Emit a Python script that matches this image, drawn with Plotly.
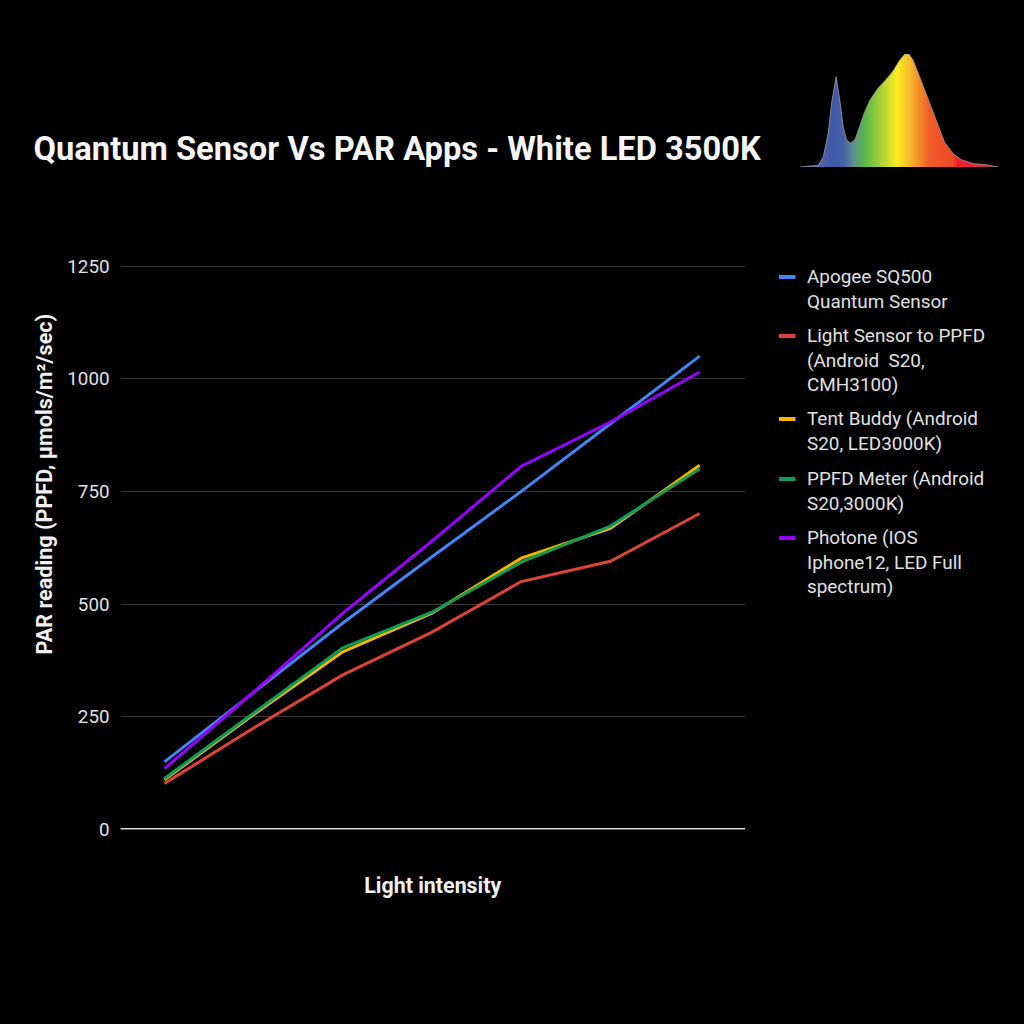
import plotly.graph_objects as go

light_steps = [1, 2, 3, 4, 5, 6, 7]
series_names = [
    "Apogee SQ500<br>Quantum Sensor",
    "Light Sensor to PPFD<br>(Android  S20,<br>CMH3100)",
    "Tent Buddy (Android<br>S20, LED3000K)",
    "PPFD Meter (Android<br>S20,3000K)",
    "Photone (IOS<br>Iphone12, LED Full<br>spectrum)",
]
apogee = [150, 305, 458, 605, 750, 900, 1050]
light_sensor = [102, 225, 343, 438, 550, 595, 701]
tent_buddy = [110, 255, 394, 480, 602, 668, 808]
ppfd_meter = [113, 258, 403, 482, 593, 673, 800]
photone = [135, 305, 480, 640, 806, 904, 1015]
series_colors = ["#4285f4", "#db4437", "#f4b400", "#0f9d58", "#9900ff"]
y_ticks = [0, 250, 500, 750, 1000, 1250]

spectrum_nm = [380, 417, 427, 437, 444, 453, 461, 467, 474, 482, 491, 501, 511, 521, 538, 555,
               568, 582, 592, 600, 608, 619, 632, 645, 659, 672, 689, 706, 729, 756, 780]
spectrum_rel = [0, 1.5, 9, 30, 57, 80, 57, 36, 24, 21, 24, 36, 49, 59, 70, 78,
                85, 95, 100, 100, 95, 83, 68, 52, 36, 22, 12, 6.5, 3, 2, 0]

S = 1024.0
legend_first_line_px = [277, 336, 419, 479, 538]

fig = go.Figure()
for name, vals, col in zip(series_names, [apogee, light_sensor, tent_buddy, ppfd_meter, photone], series_colors):
    fig.add_trace(go.Scatter(x=light_steps, y=vals, name=name.replace("<br>", " "), mode="lines",
                             showlegend=False, line=dict(color=col, width=3)))

fig.add_trace(go.Scatter(
    x=spectrum_nm, y=spectrum_rel, xaxis="x2", yaxis="y2", mode="lines", showlegend=False,
    hoverinfo="skip", line=dict(color="#9a9a9a", width=0.8), fill="tozeroy",
    fillgradient=dict(type="horizontal", colorscale=[
        [0, "#6f6aa0"], [0.1, "#5a5fa8"], [0.16, "#3f5aa8"], [0.22, "#4560a5"], [0.27, "#5f8f8f"],
        [0.33, "#58b947"], [0.42, "#b5d334"], [0.49, "#f9ed20"], [0.56, "#f7b52b"], [0.655, "#f15a29"],
        [0.77, "#ef4a26"], [0.8, "#ed1c24"], [0.9, "#e0303a"], [1, "#a03040"]]),
))

fig.update_layout(
    width=1024, height=1024, margin=dict(l=0, r=0, t=0, b=0, autoexpand=False),
    paper_bgcolor="#000000", plot_bgcolor="#000000", showlegend=False,
    font=dict(family="Roboto", color="#e8e8e8"),
    title=dict(text="<b>Quantum Sensor Vs PAR Apps - White LED 3500K</b>",
               x=33.5 / S, xanchor="left", y=1 - 148.5 / S, yanchor="middle",
               font=dict(family="Roboto", size=32.7, color="#f5f5f5")),
    xaxis=dict(domain=[120.5 / S, 745 / S], range=[0.508, 7.508], showticklabels=False, showgrid=False,
               zeroline=False, ticks="", title=dict(text="<b>Light intensity</b>", standoff=48.5,
               font=dict(size=21.4, color="#f0f0f0"))),
    yaxis=dict(domain=[1 - 829.5 / S, 1 - 263.75 / S], range=[0, 1255], tickvals=y_ticks,
               gridcolor="#3a3a3a", gridwidth=1, zeroline=False, ticks="", showline=False,
               tickfont=dict(size=18.8, color="#e0e0e0"), ticklabelstandoff=10),
    xaxis2=dict(domain=[800 / S, 998 / S], range=[380, 780], visible=False, anchor="y2"),
    yaxis2=dict(domain=[1 - 167 / S, 1 - 54 / S], range=[0, 100], visible=False, anchor="x2"),
)
fig.add_shape(type="line", xref="paper", yref="y", x0=120.5 / S, x1=745 / S, y0=0, y1=0,
              layer="above", line=dict(color="#d8d8d8", width=3))
fig.add_annotation(text="<b>PAR reading (PPFD, µmols/m²/sec)</b>", xref="paper", yref="paper",
                   x=43.5 / S, y=1 - 484 / S, xanchor="center", yanchor="middle", textangle=-90,
                   showarrow=False, font=dict(size=21.6, color="#f0f0f0"))

# Legend block: swatch beside the first line of each entry
for name, col, first in zip(series_names, series_colors, legend_first_line_px):
    fig.add_shape(type="line", xref="paper", yref="paper", x0=779 / S, x1=795.5 / S,
                  y0=1 - first / S, y1=1 - first / S, line=dict(color=col, width=4))
    fig.add_annotation(text=name, xref="paper", yref="paper", x=806.5 / S, y=1 - (first - 12) / S,
                       xanchor="left", yanchor="top", align="left", showarrow=False,
                       borderpad=0, borderwidth=0, font=dict(size=18.9, color="#e0e0e0"))

fig.write_html("out.html", post_script="document.body.style.margin='0';",
               config={"displayModeBar": False})
